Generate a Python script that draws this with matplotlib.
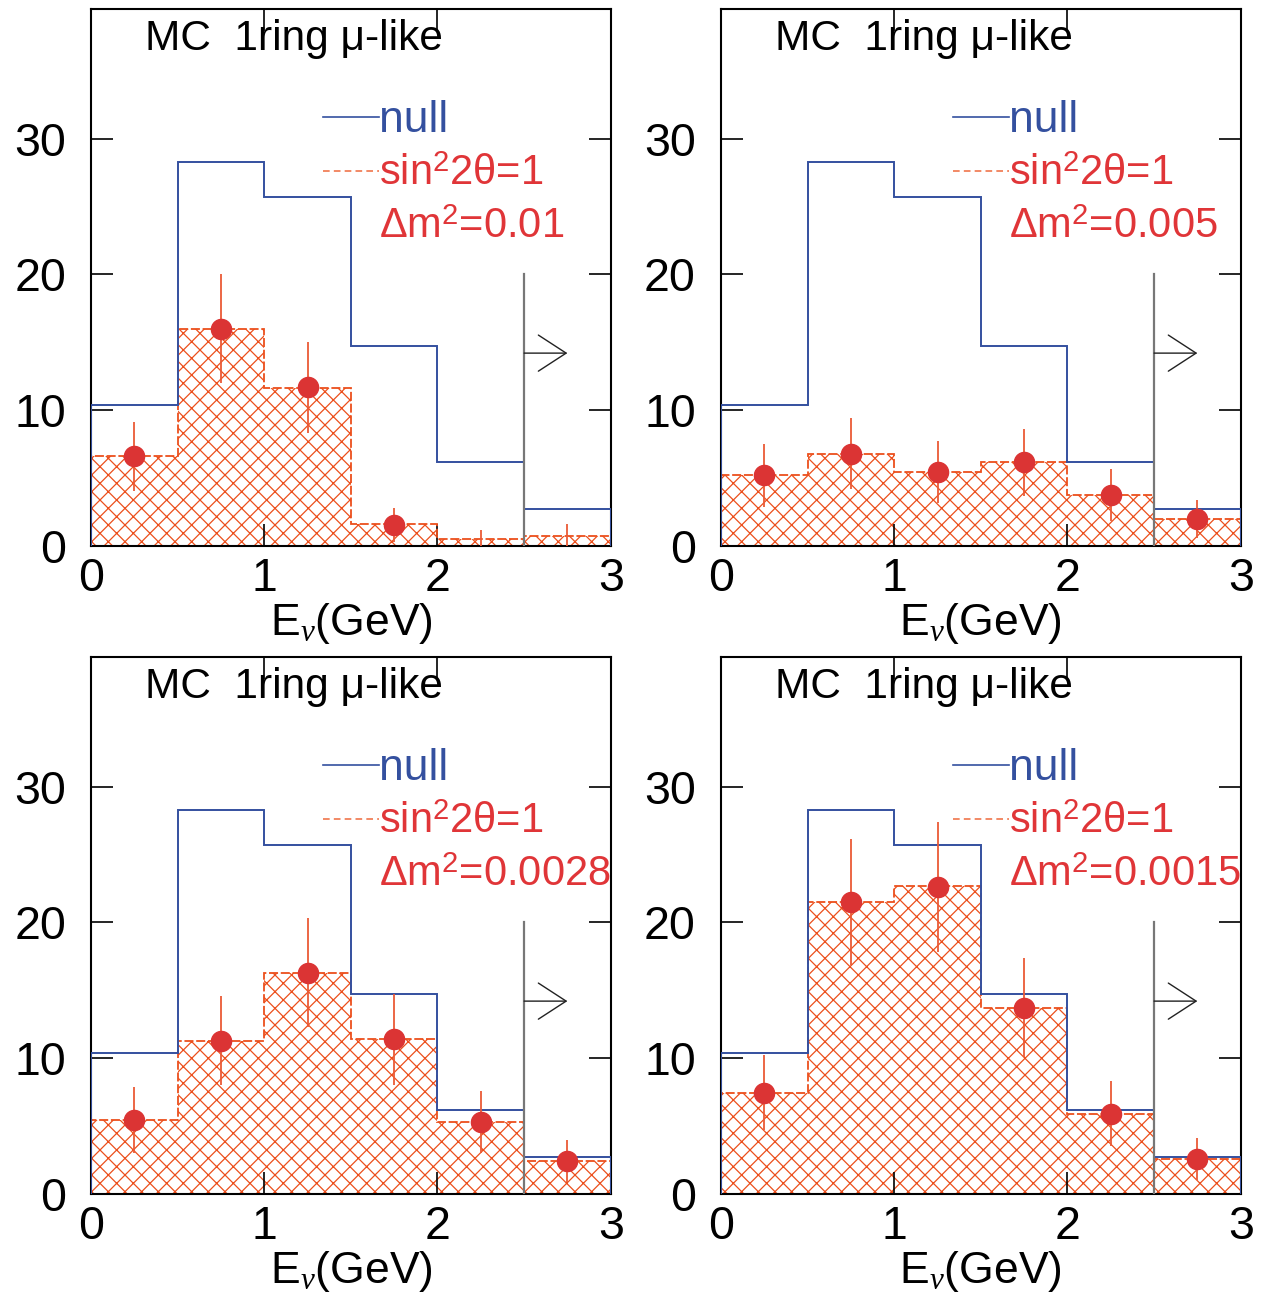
import matplotlib
matplotlib.use("Agg")
import matplotlib.pyplot as plt
import numpy as np

plt.rcParams['font.family'] = ['Liberation Sans', 'DejaVu Sans']
plt.rcParams['mathtext.fontset'] = 'custom'
plt.rcParams['mathtext.rm'] = 'Liberation Sans'
plt.rcParams['mathtext.it'] = 'Liberation Serif:italic'
plt.rcParams['hatch.linewidth'] = 0.9

# -------------------------
# data (events per 0.5 GeV bin)
# -------------------------
edges = [0.0, 0.5, 1.0, 1.5, 2.0, 2.5, 3.0]
centers = [0.25, 0.75, 1.25, 1.75, 2.25, 2.75]

null_mc = [10.4, 28.3, 25.7, 14.7, 6.2, 2.7]

dm2_labels = ["0.01", "0.005", "0.0028", "0.0015"]

osc_001 = [6.6, 16.0, 11.6, 1.6, 0.55, 0.75]
osc_0005 = [5.25, 6.8, 5.45, 6.15, 3.75, 2.0]
osc_00028 = [5.45, 11.3, 16.3, 11.4, 5.3, 2.4]
osc_00015 = [7.45, 21.5, 22.7, 13.7, 5.9, 2.6]

pts_001 = [6.6, 16.0, 11.7, 1.55, 0.0, 0.0]
pts_0005 = [5.2, 6.8, 5.45, 6.15, 3.75, 2.0]
pts_00028 = [5.45, 11.3, 16.3, 11.4, 5.3, 2.45]
pts_00015 = [7.45, 21.5, 22.6, 13.7, 5.9, 2.6]

err_001 = [2.55, 4.0, 3.35, 1.25, 1.2, 1.6]
err_0005 = [2.3, 2.6, 2.3, 2.45, 1.9, 1.4]
err_00028 = [2.4, 3.3, 4.0, 3.35, 2.3, 1.55]
err_00015 = [2.75, 4.65, 4.75, 3.65, 2.4, 1.55]

osc_all = [osc_001, osc_0005, osc_00028, osc_00015]
pts_all = [pts_001, pts_0005, pts_00028, pts_00015]
err_all = [err_001, err_0005, err_00028, err_00015]

cut_energy = 2.5
cut_top = 20
arrow_y = 14.2

blue = '#34509f'
red_txt = '#e03538'
dot_red = '#db3434'
hatch_col = '#ec4f1c'
err_col = '#ea5a36'

fig = plt.figure(figsize=(12.66, 12.96), dpi=100)

lefts = [0.0719, 0.5695, 0.0719, 0.5695]
bottoms = [0.5787, 0.5787, 0.0787, 0.0787]
w, h = 0.4105, 0.4140

for k in range(4):
    ax = fig.add_axes([lefts[k], bottoms[k], w, h])

    # oscillated histogram (hatched)
    ax.bar(centers, osc_all[k], width=0.5, facecolor='none', edgecolor=hatch_col,
           hatch='xx', linewidth=0, zorder=1)
    ax.stairs(osc_all[k], edges, color=hatch_col, lw=1.3,
              linestyle=(0, (5, 1.5)), zorder=2)

    # null histogram
    ax.stairs(null_mc, edges, color=blue, lw=1.4, zorder=3)

    # MC points with errors
    p = np.array(pts_all[k])
    e = np.array(err_all[k])
    ax.vlines(centers, np.clip(p - e, 0, None), p + e, color=err_col, lw=1.3, zorder=4)
    vis = p > 0
    ax.plot(np.array(centers)[vis], p[vis], 'o', color=dot_red, ms=14.5, zorder=5)

    # energy cut line + arrow
    ax.plot([cut_energy, cut_energy], [0, cut_top], color='#777777', lw=1.6, zorder=3)
    ax.annotate("", xy=(cut_energy + 0.25, arrow_y), xytext=(cut_energy, arrow_y),
                arrowprops=dict(arrowstyle='->,head_length=1.0,head_width=0.65',
                                color='#222222', lw=1.0, mutation_scale=20,
                                shrinkA=0, shrinkB=0))

    # texts
    ax.text(0.31, 36.5, "MC  1ring \u03bc-like", fontsize=30.5, color='black', va='baseline')
    ax.plot([1.34, 1.66], [31.6, 31.6], color=blue, lw=1.2)
    ax.text(1.66, 30.5, "null", fontsize=32, color=blue, va='baseline')
    ax.plot([1.34, 1.66], [27.6, 27.6], color='#f0764c', lw=1.2, linestyle=(0, (4, 2.5)))
    ax.text(1.66, 26.6, "sin$^{2}$2\u03b8=1", fontsize=30, color=red_txt, va='baseline')
    ax.text(1.66, 22.7, "\u0394m$^{2}$=" + dm2_labels[k], fontsize=30,
            color=red_txt, va='baseline')

    ax.set_xlim(0, 3)
    ax.set_ylim(0, 39.5)
    ax.set_xticks([0, 1, 2, 3])
    ax.set_yticks([0, 10, 20, 30])
    ax.tick_params(direction='in', length=16, width=1.2, top=True, right=True,
                   labelsize=33.5)
    ax.tick_params(axis='y', pad=18)
    ax.tick_params(axis='x', pad=8)
    for s in ax.spines.values():
        s.set_linewidth(1.5)
    ax.set_xlabel(r"E$_{\nu}$(GeV)", fontsize=32, labelpad=0)

fig.savefig("out.png", dpi=100)
